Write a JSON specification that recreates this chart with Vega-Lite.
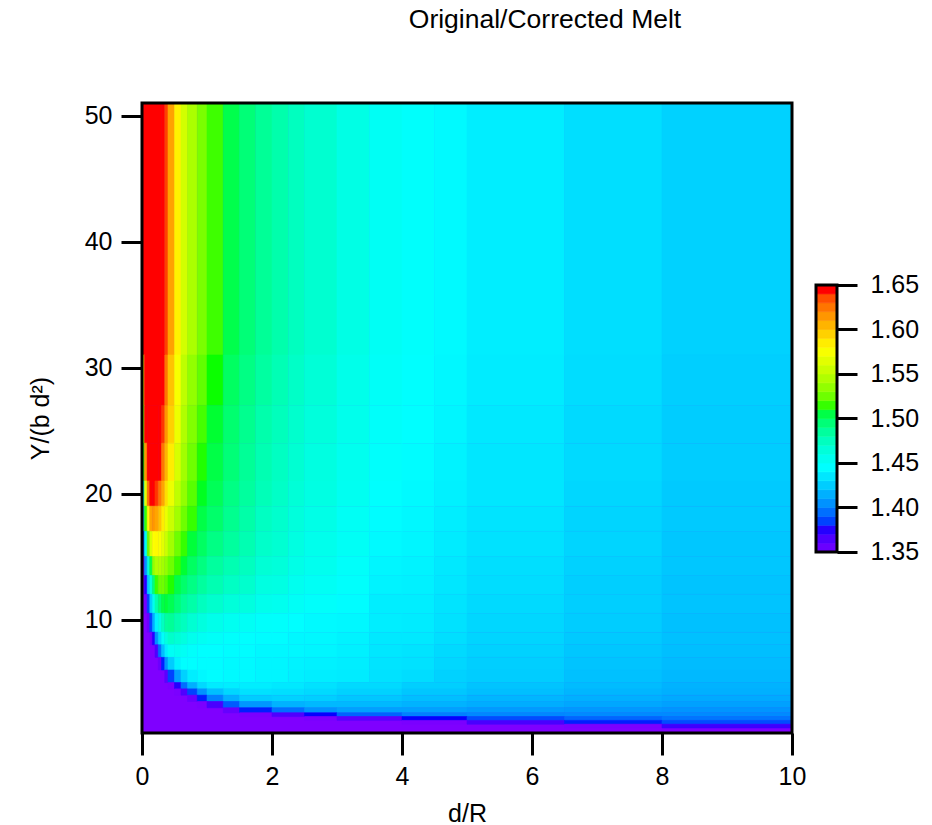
{"$schema":"https://vega.github.io/schema/vega-lite/v6.json","padding":{"left":28,"top":7,"right":5,"bottom":0},"spacing":8,"config":{"font":"Liberation Sans","axis":{"labelFont":"Liberation Sans","titleFont":"Liberation Sans","labelColor":"#000","titleColor":"#000","tickColor":"#000","domainColor":"#000","grid":false,"labelFontSize":25,"titleFontSize":25,"titleFontWeight":"normal","tickWidth":3,"labelFlush":false}},"hconcat":[{"width":650,"height":630,"view":{"stroke":null},"title":{"text":"Original/Corrected Melt","font":"Liberation Sans","fontSize":26.5,"fontWeight":"normal","anchor":"middle","dx":78,"offset":68,"color":"#000"},"layer":[{"data":{"values":[
{"x":0,"x2":10,"y":1,"y2":51,"v":1.35},
{"x":0,"x2":0.3,"y":31,"y2":51,"v":1.68},{"x":0.3,"x2":0.35,"y":31,"y2":51,"v":1.668},{"x":0.35,"x2":0.4,"y":31,"y2":51,"v":1.643},{"x":0.4,"x2":0.5,"y":31,"y2":51,"v":1.616},{"x":0.5,"x2":0.6,"y":31,"y2":51,"v":1.588},{"x":0.6,"x2":0.7,"y":31,"y2":51,"v":1.563},{"x":0.7,"x2":0.85,"y":31,"y2":51,"v":1.548},{"x":0.85,"x2":1,"y":31,"y2":51,"v":1.533},{"x":1,"x2":1.25,"y":31,"y2":51,"v":1.521},{"x":1.25,"x2":1.5,"y":31,"y2":51,"v":1.509},{"x":1.5,"x2":1.75,"y":31,"y2":51,"v":1.5},{"x":1.75,"x2":2,"y":31,"y2":51,"v":1.492},{"x":2,"x2":2.25,"y":31,"y2":51,"v":1.486},{"x":2.25,"x2":2.5,"y":31,"y2":51,"v":1.48},{"x":2.5,"x2":3,"y":31,"y2":51,"v":1.474},{"x":3,"x2":3.5,"y":31,"y2":51,"v":1.465},{"x":3.5,"x2":4,"y":31,"y2":51,"v":1.457},{"x":4,"x2":4.5,"y":31,"y2":51,"v":1.452},{"x":4.5,"x2":5,"y":31,"y2":51,"v":1.448},{"x":5,"x2":6.5,"y":31,"y2":51,"v":1.443},{"x":6.5,"x2":8,"y":31,"y2":51,"v":1.437},{"x":8,"x2":10,"y":31,"y2":51,"v":1.432},
{"x":0,"x2":0.04,"y":27,"y2":31,"v":1.6},{"x":0.04,"x2":0.3,"y":27,"y2":31,"v":1.68},{"x":0.3,"x2":0.35,"y":27,"y2":31,"v":1.655},{"x":0.35,"x2":0.4,"y":27,"y2":31,"v":1.63},{"x":0.4,"x2":0.5,"y":27,"y2":31,"v":1.605},{"x":0.5,"x2":0.6,"y":27,"y2":31,"v":1.58},{"x":0.6,"x2":0.7,"y":27,"y2":31,"v":1.555},{"x":0.7,"x2":0.85,"y":27,"y2":31,"v":1.54},{"x":0.85,"x2":1,"y":27,"y2":31,"v":1.527},{"x":1,"x2":1.25,"y":27,"y2":31,"v":1.517},{"x":1.25,"x2":1.5,"y":27,"y2":31,"v":1.505},{"x":1.5,"x2":1.75,"y":27,"y2":31,"v":1.497},{"x":1.75,"x2":2,"y":27,"y2":31,"v":1.489},{"x":2,"x2":2.25,"y":27,"y2":31,"v":1.483},{"x":2.25,"x2":2.5,"y":27,"y2":31,"v":1.477},{"x":2.5,"x2":3,"y":27,"y2":31,"v":1.471},{"x":3,"x2":3.5,"y":27,"y2":31,"v":1.463},{"x":3.5,"x2":4,"y":27,"y2":31,"v":1.455},{"x":4,"x2":4.5,"y":27,"y2":31,"v":1.451},{"x":4.5,"x2":5,"y":27,"y2":31,"v":1.447},{"x":5,"x2":6.5,"y":27,"y2":31,"v":1.442},{"x":6.5,"x2":8,"y":27,"y2":31,"v":1.436},{"x":8,"x2":10,"y":27,"y2":31,"v":1.431},
{"x":0,"x2":0.04,"y":24,"y2":27,"v":1.55},{"x":0.04,"x2":0.08,"y":24,"y2":27,"v":1.67},{"x":0.08,"x2":0.25,"y":24,"y2":27,"v":1.68},{"x":0.25,"x2":0.3,"y":24,"y2":27,"v":1.67},{"x":0.3,"x2":0.35,"y":24,"y2":27,"v":1.645},{"x":0.35,"x2":0.4,"y":24,"y2":27,"v":1.62},{"x":0.4,"x2":0.5,"y":24,"y2":27,"v":1.6},{"x":0.5,"x2":0.6,"y":24,"y2":27,"v":1.575},{"x":0.6,"x2":0.7,"y":24,"y2":27,"v":1.55},{"x":0.7,"x2":0.85,"y":24,"y2":27,"v":1.535},{"x":0.85,"x2":1,"y":24,"y2":27,"v":1.522},{"x":1,"x2":1.25,"y":24,"y2":27,"v":1.513},{"x":1.25,"x2":1.5,"y":24,"y2":27,"v":1.502},{"x":1.5,"x2":1.75,"y":24,"y2":27,"v":1.494},{"x":1.75,"x2":2,"y":24,"y2":27,"v":1.486},{"x":2,"x2":2.25,"y":24,"y2":27,"v":1.481},{"x":2.25,"x2":2.5,"y":24,"y2":27,"v":1.475},{"x":2.5,"x2":3,"y":24,"y2":27,"v":1.469},{"x":3,"x2":3.5,"y":24,"y2":27,"v":1.462},{"x":3.5,"x2":4,"y":24,"y2":27,"v":1.454},{"x":4,"x2":4.5,"y":24,"y2":27,"v":1.45},{"x":4.5,"x2":5,"y":24,"y2":27,"v":1.446},{"x":5,"x2":6.5,"y":24,"y2":27,"v":1.441},{"x":6.5,"x2":8,"y":24,"y2":27,"v":1.435},{"x":8,"x2":10,"y":24,"y2":27,"v":1.43},
{"x":0,"x2":0.04,"y":21,"y2":24,"v":1.52},{"x":0.04,"x2":0.08,"y":21,"y2":24,"v":1.62},{"x":0.08,"x2":0.12,"y":21,"y2":24,"v":1.665},{"x":0.12,"x2":0.2,"y":21,"y2":24,"v":1.68},{"x":0.2,"x2":0.25,"y":21,"y2":24,"v":1.67},{"x":0.25,"x2":0.3,"y":21,"y2":24,"v":1.65},{"x":0.3,"x2":0.35,"y":21,"y2":24,"v":1.63},{"x":0.35,"x2":0.4,"y":21,"y2":24,"v":1.61},{"x":0.4,"x2":0.5,"y":21,"y2":24,"v":1.59},{"x":0.5,"x2":0.6,"y":21,"y2":24,"v":1.565},{"x":0.6,"x2":0.7,"y":21,"y2":24,"v":1.545},{"x":0.7,"x2":0.85,"y":21,"y2":24,"v":1.53},{"x":0.85,"x2":1,"y":21,"y2":24,"v":1.518},{"x":1,"x2":1.25,"y":21,"y2":24,"v":1.51},{"x":1.25,"x2":1.5,"y":21,"y2":24,"v":1.5},{"x":1.5,"x2":1.75,"y":21,"y2":24,"v":1.492},{"x":1.75,"x2":2,"y":21,"y2":24,"v":1.484},{"x":2,"x2":2.25,"y":21,"y2":24,"v":1.479},{"x":2.25,"x2":2.5,"y":21,"y2":24,"v":1.473},{"x":2.5,"x2":3,"y":21,"y2":24,"v":1.467},{"x":3,"x2":3.5,"y":21,"y2":24,"v":1.46},{"x":3.5,"x2":4,"y":21,"y2":24,"v":1.452},{"x":4,"x2":4.5,"y":21,"y2":24,"v":1.449},{"x":4.5,"x2":5,"y":21,"y2":24,"v":1.445},{"x":5,"x2":6.5,"y":21,"y2":24,"v":1.44},{"x":6.5,"x2":8,"y":21,"y2":24,"v":1.435},{"x":8,"x2":10,"y":21,"y2":24,"v":1.43},
{"x":0,"x2":0.04,"y":19,"y2":21,"v":1.47},{"x":0.04,"x2":0.08,"y":19,"y2":21,"v":1.57},{"x":0.08,"x2":0.12,"y":19,"y2":21,"v":1.63},{"x":0.12,"x2":0.16,"y":19,"y2":21,"v":1.655},{"x":0.16,"x2":0.2,"y":19,"y2":21,"v":1.655},{"x":0.2,"x2":0.25,"y":19,"y2":21,"v":1.645},{"x":0.25,"x2":0.3,"y":19,"y2":21,"v":1.63},{"x":0.3,"x2":0.35,"y":19,"y2":21,"v":1.615},{"x":0.35,"x2":0.4,"y":19,"y2":21,"v":1.595},{"x":0.4,"x2":0.5,"y":19,"y2":21,"v":1.575},{"x":0.5,"x2":0.6,"y":19,"y2":21,"v":1.555},{"x":0.6,"x2":0.7,"y":19,"y2":21,"v":1.54},{"x":0.7,"x2":0.85,"y":19,"y2":21,"v":1.525},{"x":0.85,"x2":1,"y":19,"y2":21,"v":1.515},{"x":1,"x2":1.25,"y":19,"y2":21,"v":1.507},{"x":1.25,"x2":1.5,"y":19,"y2":21,"v":1.497},{"x":1.5,"x2":1.75,"y":19,"y2":21,"v":1.49},{"x":1.75,"x2":2,"y":19,"y2":21,"v":1.482},{"x":2,"x2":2.25,"y":19,"y2":21,"v":1.477},{"x":2.25,"x2":2.5,"y":19,"y2":21,"v":1.471},{"x":2.5,"x2":3,"y":19,"y2":21,"v":1.466},{"x":3,"x2":3.5,"y":19,"y2":21,"v":1.459},{"x":3.5,"x2":4,"y":19,"y2":21,"v":1.451},{"x":4,"x2":4.5,"y":19,"y2":21,"v":1.448},{"x":4.5,"x2":5,"y":19,"y2":21,"v":1.444},{"x":5,"x2":6.5,"y":19,"y2":21,"v":1.44},{"x":6.5,"x2":8,"y":19,"y2":21,"v":1.434},{"x":8,"x2":10,"y":19,"y2":21,"v":1.429},
{"x":0,"x2":0.04,"y":17,"y2":19,"v":1.43},{"x":0.04,"x2":0.08,"y":17,"y2":19,"v":1.52},{"x":0.08,"x2":0.12,"y":17,"y2":19,"v":1.585},{"x":0.12,"x2":0.16,"y":17,"y2":19,"v":1.615},{"x":0.16,"x2":0.2,"y":17,"y2":19,"v":1.62},{"x":0.2,"x2":0.25,"y":17,"y2":19,"v":1.615},{"x":0.25,"x2":0.3,"y":17,"y2":19,"v":1.605},{"x":0.3,"x2":0.35,"y":17,"y2":19,"v":1.59},{"x":0.35,"x2":0.4,"y":17,"y2":19,"v":1.575},{"x":0.4,"x2":0.5,"y":17,"y2":19,"v":1.56},{"x":0.5,"x2":0.6,"y":17,"y2":19,"v":1.545},{"x":0.6,"x2":0.7,"y":17,"y2":19,"v":1.53},{"x":0.7,"x2":0.85,"y":17,"y2":19,"v":1.52},{"x":0.85,"x2":1,"y":17,"y2":19,"v":1.51},{"x":1,"x2":1.25,"y":17,"y2":19,"v":1.503},{"x":1.25,"x2":1.5,"y":17,"y2":19,"v":1.494},{"x":1.5,"x2":1.75,"y":17,"y2":19,"v":1.487},{"x":1.75,"x2":2,"y":17,"y2":19,"v":1.479},{"x":2,"x2":2.25,"y":17,"y2":19,"v":1.475},{"x":2.25,"x2":2.5,"y":17,"y2":19,"v":1.469},{"x":2.5,"x2":3,"y":17,"y2":19,"v":1.464},{"x":3,"x2":3.5,"y":17,"y2":19,"v":1.457},{"x":3.5,"x2":4,"y":17,"y2":19,"v":1.449},{"x":4,"x2":4.5,"y":17,"y2":19,"v":1.447},{"x":4.5,"x2":5,"y":17,"y2":19,"v":1.443},{"x":5,"x2":6.5,"y":17,"y2":19,"v":1.439},{"x":6.5,"x2":8,"y":17,"y2":19,"v":1.433},{"x":8,"x2":10,"y":17,"y2":19,"v":1.429},
{"x":0,"x2":0.04,"y":15,"y2":17,"v":1.39},{"x":0.04,"x2":0.08,"y":15,"y2":17,"v":1.46},{"x":0.08,"x2":0.12,"y":15,"y2":17,"v":1.53},{"x":0.12,"x2":0.16,"y":15,"y2":17,"v":1.565},{"x":0.16,"x2":0.2,"y":15,"y2":17,"v":1.583},{"x":0.2,"x2":0.25,"y":15,"y2":17,"v":1.585},{"x":0.25,"x2":0.3,"y":15,"y2":17,"v":1.58},{"x":0.3,"x2":0.35,"y":15,"y2":17,"v":1.57},{"x":0.35,"x2":0.4,"y":15,"y2":17,"v":1.56},{"x":0.4,"x2":0.5,"y":15,"y2":17,"v":1.545},{"x":0.5,"x2":0.6,"y":15,"y2":17,"v":1.53},{"x":0.6,"x2":0.7,"y":15,"y2":17,"v":1.52},{"x":0.7,"x2":0.85,"y":15,"y2":17,"v":1.512},{"x":0.85,"x2":1,"y":15,"y2":17,"v":1.505},{"x":1,"x2":1.25,"y":15,"y2":17,"v":1.497},{"x":1.25,"x2":1.5,"y":15,"y2":17,"v":1.49},{"x":1.5,"x2":1.75,"y":15,"y2":17,"v":1.484},{"x":1.75,"x2":2,"y":15,"y2":17,"v":1.476},{"x":2,"x2":2.25,"y":15,"y2":17,"v":1.473},{"x":2.25,"x2":2.5,"y":15,"y2":17,"v":1.467},{"x":2.5,"x2":3,"y":15,"y2":17,"v":1.462},{"x":3,"x2":3.5,"y":15,"y2":17,"v":1.456},{"x":3.5,"x2":4,"y":15,"y2":17,"v":1.448},{"x":4,"x2":4.5,"y":15,"y2":17,"v":1.446},{"x":4.5,"x2":5,"y":15,"y2":17,"v":1.442},{"x":5,"x2":6.5,"y":15,"y2":17,"v":1.438},{"x":6.5,"x2":8,"y":15,"y2":17,"v":1.433},{"x":8,"x2":10,"y":15,"y2":17,"v":1.428},
{"x":0,"x2":0.04,"y":13.5,"y2":15,"v":1.36},{"x":0.04,"x2":0.08,"y":13.5,"y2":15,"v":1.41},{"x":0.08,"x2":0.12,"y":13.5,"y2":15,"v":1.47},{"x":0.12,"x2":0.16,"y":13.5,"y2":15,"v":1.51},{"x":0.16,"x2":0.2,"y":13.5,"y2":15,"v":1.54},{"x":0.2,"x2":0.25,"y":13.5,"y2":15,"v":1.55},{"x":0.25,"x2":0.3,"y":13.5,"y2":15,"v":1.55},{"x":0.3,"x2":0.35,"y":13.5,"y2":15,"v":1.545},{"x":0.35,"x2":0.4,"y":13.5,"y2":15,"v":1.54},{"x":0.4,"x2":0.5,"y":13.5,"y2":15,"v":1.53},{"x":0.5,"x2":0.6,"y":13.5,"y2":15,"v":1.52},{"x":0.6,"x2":0.7,"y":13.5,"y2":15,"v":1.513},{"x":0.7,"x2":0.85,"y":13.5,"y2":15,"v":1.505},{"x":0.85,"x2":1,"y":13.5,"y2":15,"v":1.498},{"x":1,"x2":1.25,"y":13.5,"y2":15,"v":1.49},{"x":1.25,"x2":1.5,"y":13.5,"y2":15,"v":1.484},{"x":1.5,"x2":1.75,"y":13.5,"y2":15,"v":1.48},{"x":1.75,"x2":2,"y":13.5,"y2":15,"v":1.472},{"x":2,"x2":2.25,"y":13.5,"y2":15,"v":1.47},{"x":2.25,"x2":2.5,"y":13.5,"y2":15,"v":1.464},{"x":2.5,"x2":3,"y":13.5,"y2":15,"v":1.46},{"x":3,"x2":3.5,"y":13.5,"y2":15,"v":1.454},{"x":3.5,"x2":4,"y":13.5,"y2":15,"v":1.446},{"x":4,"x2":4.5,"y":13.5,"y2":15,"v":1.445},{"x":4.5,"x2":5,"y":13.5,"y2":15,"v":1.441},{"x":5,"x2":6.5,"y":13.5,"y2":15,"v":1.437},{"x":6.5,"x2":8,"y":13.5,"y2":15,"v":1.432},{"x":8,"x2":10,"y":13.5,"y2":15,"v":1.428},
{"x":0.04,"x2":0.08,"y":12,"y2":13.5,"v":1.38},{"x":0.08,"x2":0.12,"y":12,"y2":13.5,"v":1.43},{"x":0.12,"x2":0.16,"y":12,"y2":13.5,"v":1.47},{"x":0.16,"x2":0.2,"y":12,"y2":13.5,"v":1.5},{"x":0.2,"x2":0.25,"y":12,"y2":13.5,"v":1.52},{"x":0.25,"x2":0.3,"y":12,"y2":13.5,"v":1.53},{"x":0.3,"x2":0.35,"y":12,"y2":13.5,"v":1.53},{"x":0.35,"x2":0.4,"y":12,"y2":13.5,"v":1.525},{"x":0.4,"x2":0.5,"y":12,"y2":13.5,"v":1.518},{"x":0.5,"x2":0.6,"y":12,"y2":13.5,"v":1.51},{"x":0.6,"x2":0.7,"y":12,"y2":13.5,"v":1.503},{"x":0.7,"x2":0.85,"y":12,"y2":13.5,"v":1.497},{"x":0.85,"x2":1,"y":12,"y2":13.5,"v":1.49},{"x":1,"x2":1.25,"y":12,"y2":13.5,"v":1.484},{"x":1.25,"x2":1.5,"y":12,"y2":13.5,"v":1.478},{"x":1.5,"x2":1.75,"y":12,"y2":13.5,"v":1.475},{"x":1.75,"x2":2,"y":12,"y2":13.5,"v":1.467},{"x":2,"x2":2.25,"y":12,"y2":13.5,"v":1.466},{"x":2.25,"x2":2.5,"y":12,"y2":13.5,"v":1.46},{"x":2.5,"x2":3,"y":12,"y2":13.5,"v":1.457},{"x":3,"x2":3.5,"y":12,"y2":13.5,"v":1.452},{"x":3.5,"x2":4,"y":12,"y2":13.5,"v":1.445},{"x":4,"x2":4.5,"y":12,"y2":13.5,"v":1.444},{"x":4.5,"x2":5,"y":12,"y2":13.5,"v":1.44},{"x":5,"x2":6.5,"y":12,"y2":13.5,"v":1.436},{"x":6.5,"x2":8,"y":12,"y2":13.5,"v":1.431},{"x":8,"x2":10,"y":12,"y2":13.5,"v":1.427},
{"x":0.04,"x2":0.08,"y":10.5,"y2":12,"v":1.355},{"x":0.08,"x2":0.12,"y":10.5,"y2":12,"v":1.39},{"x":0.12,"x2":0.16,"y":10.5,"y2":12,"v":1.43},{"x":0.16,"x2":0.2,"y":10.5,"y2":12,"v":1.46},{"x":0.2,"x2":0.25,"y":10.5,"y2":12,"v":1.485},{"x":0.25,"x2":0.3,"y":10.5,"y2":12,"v":1.5},{"x":0.3,"x2":0.35,"y":10.5,"y2":12,"v":1.51},{"x":0.35,"x2":0.4,"y":10.5,"y2":12,"v":1.512},{"x":0.4,"x2":0.5,"y":10.5,"y2":12,"v":1.508},{"x":0.5,"x2":0.6,"y":10.5,"y2":12,"v":1.5},{"x":0.6,"x2":0.7,"y":10.5,"y2":12,"v":1.492},{"x":0.7,"x2":0.85,"y":10.5,"y2":12,"v":1.487},{"x":0.85,"x2":1,"y":10.5,"y2":12,"v":1.48},{"x":1,"x2":1.25,"y":10.5,"y2":12,"v":1.475},{"x":1.25,"x2":1.5,"y":10.5,"y2":12,"v":1.47},{"x":1.5,"x2":1.75,"y":10.5,"y2":12,"v":1.468},{"x":1.75,"x2":2,"y":10.5,"y2":12,"v":1.462},{"x":2,"x2":2.25,"y":10.5,"y2":12,"v":1.46},{"x":2.25,"x2":2.5,"y":10.5,"y2":12,"v":1.456},{"x":2.5,"x2":3,"y":10.5,"y2":12,"v":1.453},{"x":3,"x2":3.5,"y":10.5,"y2":12,"v":1.449},{"x":3.5,"x2":4,"y":10.5,"y2":12,"v":1.443},{"x":4,"x2":4.5,"y":10.5,"y2":12,"v":1.443},{"x":4.5,"x2":5,"y":10.5,"y2":12,"v":1.439},{"x":5,"x2":6.5,"y":10.5,"y2":12,"v":1.435},{"x":6.5,"x2":8,"y":10.5,"y2":12,"v":1.431},{"x":8,"x2":10,"y":10.5,"y2":12,"v":1.427},
{"x":0.08,"x2":0.12,"y":9,"y2":10.5,"v":1.36},{"x":0.12,"x2":0.16,"y":9,"y2":10.5,"v":1.39},{"x":0.16,"x2":0.2,"y":9,"y2":10.5,"v":1.42},{"x":0.2,"x2":0.25,"y":9,"y2":10.5,"v":1.445},{"x":0.25,"x2":0.3,"y":9,"y2":10.5,"v":1.465},{"x":0.3,"x2":0.35,"y":9,"y2":10.5,"v":1.48},{"x":0.35,"x2":0.4,"y":9,"y2":10.5,"v":1.49},{"x":0.4,"x2":0.5,"y":9,"y2":10.5,"v":1.492},{"x":0.5,"x2":0.6,"y":9,"y2":10.5,"v":1.485},{"x":0.6,"x2":0.7,"y":9,"y2":10.5,"v":1.48},{"x":0.7,"x2":0.85,"y":9,"y2":10.5,"v":1.473},{"x":0.85,"x2":1,"y":9,"y2":10.5,"v":1.468},{"x":1,"x2":1.25,"y":9,"y2":10.5,"v":1.463},{"x":1.25,"x2":1.5,"y":9,"y2":10.5,"v":1.459},{"x":1.5,"x2":1.75,"y":9,"y2":10.5,"v":1.457},{"x":1.75,"x2":2,"y":9,"y2":10.5,"v":1.453},{"x":2,"x2":2.25,"y":9,"y2":10.5,"v":1.452},{"x":2.25,"x2":2.5,"y":9,"y2":10.5,"v":1.45},{"x":2.5,"x2":3,"y":9,"y2":10.5,"v":1.448},{"x":3,"x2":3.5,"y":9,"y2":10.5,"v":1.447},{"x":3.5,"x2":4,"y":9,"y2":10.5,"v":1.443},{"x":4,"x2":4.5,"y":9,"y2":10.5,"v":1.442},{"x":4.5,"x2":5,"y":9,"y2":10.5,"v":1.438},{"x":5,"x2":6.5,"y":9,"y2":10.5,"v":1.434},{"x":6.5,"x2":8,"y":9,"y2":10.5,"v":1.43},{"x":8,"x2":10,"y":9,"y2":10.5,"v":1.426},
{"x":0.12,"x2":0.16,"y":8,"y2":9,"v":1.355},{"x":0.16,"x2":0.2,"y":8,"y2":9,"v":1.38},{"x":0.2,"x2":0.25,"y":8,"y2":9,"v":1.41},{"x":0.25,"x2":0.3,"y":8,"y2":9,"v":1.435},{"x":0.3,"x2":0.35,"y":8,"y2":9,"v":1.455},{"x":0.35,"x2":0.4,"y":8,"y2":9,"v":1.468},{"x":0.4,"x2":0.5,"y":8,"y2":9,"v":1.476},{"x":0.5,"x2":0.6,"y":8,"y2":9,"v":1.472},{"x":0.6,"x2":0.7,"y":8,"y2":9,"v":1.468},{"x":0.7,"x2":0.85,"y":8,"y2":9,"v":1.462},{"x":0.85,"x2":1,"y":8,"y2":9,"v":1.458},{"x":1,"x2":1.25,"y":8,"y2":9,"v":1.455},{"x":1.25,"x2":1.5,"y":8,"y2":9,"v":1.452},{"x":1.5,"x2":1.75,"y":8,"y2":9,"v":1.451},{"x":1.75,"x2":2,"y":8,"y2":9,"v":1.449},{"x":2,"x2":2.25,"y":8,"y2":9,"v":1.449},{"x":2.25,"x2":2.5,"y":8,"y2":9,"v":1.447},{"x":2.5,"x2":3,"y":8,"y2":9,"v":1.447},{"x":3,"x2":3.5,"y":8,"y2":9,"v":1.445},{"x":3.5,"x2":4,"y":8,"y2":9,"v":1.441},{"x":4,"x2":4.5,"y":8,"y2":9,"v":1.441},{"x":4.5,"x2":5,"y":8,"y2":9,"v":1.437},{"x":5,"x2":6.5,"y":8,"y2":9,"v":1.433},{"x":6.5,"x2":8,"y":8,"y2":9,"v":1.429},{"x":8,"x2":10,"y":8,"y2":9,"v":1.426},
{"x":0.2,"x2":0.25,"y":7,"y2":8,"v":1.37},{"x":0.25,"x2":0.3,"y":7,"y2":8,"v":1.4},{"x":0.3,"x2":0.35,"y":7,"y2":8,"v":1.425},{"x":0.35,"x2":0.4,"y":7,"y2":8,"v":1.443},{"x":0.4,"x2":0.5,"y":7,"y2":8,"v":1.457},{"x":0.5,"x2":0.6,"y":7,"y2":8,"v":1.46},{"x":0.6,"x2":0.7,"y":7,"y2":8,"v":1.457},{"x":0.7,"x2":0.85,"y":7,"y2":8,"v":1.453},{"x":0.85,"x2":1,"y":7,"y2":8,"v":1.45},{"x":1,"x2":1.25,"y":7,"y2":8,"v":1.45},{"x":1.25,"x2":1.5,"y":7,"y2":8,"v":1.449},{"x":1.5,"x2":1.75,"y":7,"y2":8,"v":1.449},{"x":1.75,"x2":2,"y":7,"y2":8,"v":1.447},{"x":2,"x2":2.25,"y":7,"y2":8,"v":1.447},{"x":2.25,"x2":2.5,"y":7,"y2":8,"v":1.447},{"x":2.5,"x2":3,"y":7,"y2":8,"v":1.446},{"x":3,"x2":3.5,"y":7,"y2":8,"v":1.444},{"x":3.5,"x2":4,"y":7,"y2":8,"v":1.44},{"x":4,"x2":4.5,"y":7,"y2":8,"v":1.439},{"x":4.5,"x2":5,"y":7,"y2":8,"v":1.435},{"x":5,"x2":6.5,"y":7,"y2":8,"v":1.432},{"x":6.5,"x2":8,"y":7,"y2":8,"v":1.428},{"x":8,"x2":10,"y":7,"y2":8,"v":1.425},
{"x":0.25,"x2":0.3,"y":6,"y2":7,"v":1.36},{"x":0.3,"x2":0.35,"y":6,"y2":7,"v":1.385},{"x":0.35,"x2":0.4,"y":6,"y2":7,"v":1.41},{"x":0.4,"x2":0.5,"y":6,"y2":7,"v":1.43},{"x":0.5,"x2":0.6,"y":6,"y2":7,"v":1.445},{"x":0.6,"x2":0.7,"y":6,"y2":7,"v":1.45},{"x":0.7,"x2":0.85,"y":6,"y2":7,"v":1.45},{"x":0.85,"x2":1,"y":6,"y2":7,"v":1.449},{"x":1,"x2":1.25,"y":6,"y2":7,"v":1.449},{"x":1.25,"x2":1.5,"y":6,"y2":7,"v":1.448},{"x":1.5,"x2":1.75,"y":6,"y2":7,"v":1.448},{"x":1.75,"x2":2,"y":6,"y2":7,"v":1.446},{"x":2,"x2":2.25,"y":6,"y2":7,"v":1.446},{"x":2.25,"x2":2.5,"y":6,"y2":7,"v":1.445},{"x":2.5,"x2":3,"y":6,"y2":7,"v":1.444},{"x":3,"x2":3.5,"y":6,"y2":7,"v":1.443},{"x":3.5,"x2":4,"y":6,"y2":7,"v":1.439},{"x":4,"x2":4.5,"y":6,"y2":7,"v":1.438},{"x":4.5,"x2":5,"y":6,"y2":7,"v":1.434},{"x":5,"x2":6.5,"y":6,"y2":7,"v":1.431},{"x":6.5,"x2":8,"y":6,"y2":7,"v":1.427},{"x":8,"x2":10,"y":6,"y2":7,"v":1.424},
{"x":0.35,"x2":0.4,"y":5,"y2":6,"v":1.365},{"x":0.4,"x2":0.5,"y":5,"y2":6,"v":1.39},{"x":0.5,"x2":0.6,"y":5,"y2":6,"v":1.415},{"x":0.6,"x2":0.7,"y":5,"y2":6,"v":1.432},{"x":0.7,"x2":0.85,"y":5,"y2":6,"v":1.443},{"x":0.85,"x2":1,"y":5,"y2":6,"v":1.447},{"x":1,"x2":1.25,"y":5,"y2":6,"v":1.449},{"x":1.25,"x2":1.5,"y":5,"y2":6,"v":1.448},{"x":1.5,"x2":1.75,"y":5,"y2":6,"v":1.448},{"x":1.75,"x2":2,"y":5,"y2":6,"v":1.446},{"x":2,"x2":2.25,"y":5,"y2":6,"v":1.446},{"x":2.25,"x2":2.5,"y":5,"y2":6,"v":1.444},{"x":2.5,"x2":3,"y":5,"y2":6,"v":1.443},{"x":3,"x2":3.5,"y":5,"y2":6,"v":1.442},{"x":3.5,"x2":4,"y":5,"y2":6,"v":1.438},{"x":4,"x2":4.5,"y":5,"y2":6,"v":1.436},{"x":4.5,"x2":5,"y":5,"y2":6,"v":1.432},{"x":5,"x2":6.5,"y":5,"y2":6,"v":1.43},{"x":6.5,"x2":8,"y":5,"y2":6,"v":1.426},{"x":8,"x2":10,"y":5,"y2":6,"v":1.423},
{"x":0.4,"x2":0.5,"y":4.5,"y2":5,"v":1.352},{"x":0.5,"x2":0.6,"y":4.5,"y2":5,"v":1.38},{"x":0.6,"x2":0.7,"y":4.5,"y2":5,"v":1.4},{"x":0.7,"x2":0.85,"y":4.5,"y2":5,"v":1.42},{"x":0.85,"x2":1,"y":4.5,"y2":5,"v":1.435},{"x":1,"x2":1.25,"y":4.5,"y2":5,"v":1.442},{"x":1.25,"x2":1.5,"y":4.5,"y2":5,"v":1.443},{"x":1.5,"x2":2,"y":4.5,"y2":5,"v":1.443},{"x":2,"x2":2.5,"y":4.5,"y2":5,"v":1.441},{"x":2.5,"x2":3,"y":4.5,"y2":5,"v":1.438},{"x":3,"x2":4,"y":4.5,"y2":5,"v":1.435},{"x":4,"x2":5,"y":4.5,"y2":5,"v":1.431},{"x":5,"x2":6.5,"y":4.5,"y2":5,"v":1.427},{"x":6.5,"x2":8,"y":4.5,"y2":5,"v":1.424},{"x":8,"x2":10,"y":4.5,"y2":5,"v":1.421},
{"x":0.5,"x2":0.6,"y":4,"y2":4.5,"v":1.352},{"x":0.6,"x2":0.7,"y":4,"y2":4.5,"v":1.37},{"x":0.7,"x2":0.85,"y":4,"y2":4.5,"v":1.39},{"x":0.85,"x2":1,"y":4,"y2":4.5,"v":1.41},{"x":1,"x2":1.25,"y":4,"y2":4.5,"v":1.425},{"x":1.25,"x2":1.5,"y":4,"y2":4.5,"v":1.434},{"x":1.5,"x2":2,"y":4,"y2":4.5,"v":1.438},{"x":2,"x2":2.5,"y":4,"y2":4.5,"v":1.437},{"x":2.5,"x2":3,"y":4,"y2":4.5,"v":1.435},{"x":3,"x2":4,"y":4,"y2":4.5,"v":1.432},{"x":4,"x2":5,"y":4,"y2":4.5,"v":1.428},{"x":5,"x2":6.5,"y":4,"y2":4.5,"v":1.425},{"x":6.5,"x2":8,"y":4,"y2":4.5,"v":1.422},{"x":8,"x2":10,"y":4,"y2":4.5,"v":1.42},
{"x":0.7,"x2":0.85,"y":3.5,"y2":4,"v":1.36},{"x":0.85,"x2":1,"y":3.5,"y2":4,"v":1.385},{"x":1,"x2":1.25,"y":3.5,"y2":4,"v":1.405},{"x":1.25,"x2":1.5,"y":3.5,"y2":4,"v":1.42},{"x":1.5,"x2":2,"y":3.5,"y2":4,"v":1.43},{"x":2,"x2":2.5,"y":3.5,"y2":4,"v":1.432},{"x":2.5,"x2":3,"y":3.5,"y2":4,"v":1.431},{"x":3,"x2":4,"y":3.5,"y2":4,"v":1.428},{"x":4,"x2":5,"y":3.5,"y2":4,"v":1.425},{"x":5,"x2":6.5,"y":3.5,"y2":4,"v":1.422},{"x":6.5,"x2":8,"y":3.5,"y2":4,"v":1.42},{"x":8,"x2":10,"y":3.5,"y2":4,"v":1.418},
{"x":0.85,"x2":1,"y":3,"y2":3.5,"v":1.352},{"x":1,"x2":1.25,"y":3,"y2":3.5,"v":1.372},{"x":1.25,"x2":1.5,"y":3,"y2":3.5,"v":1.395},{"x":1.5,"x2":2,"y":3,"y2":3.5,"v":1.412},{"x":2,"x2":2.5,"y":3,"y2":3.5,"v":1.421},{"x":2.5,"x2":3,"y":3,"y2":3.5,"v":1.423},{"x":3,"x2":4,"y":3,"y2":3.5,"v":1.423},{"x":4,"x2":5,"y":3,"y2":3.5,"v":1.421},{"x":5,"x2":6.5,"y":3,"y2":3.5,"v":1.419},{"x":6.5,"x2":8,"y":3,"y2":3.5,"v":1.417},{"x":8,"x2":10,"y":3,"y2":3.5,"v":1.415},
{"x":1.25,"x2":1.5,"y":2.6,"y2":3,"v":1.362},{"x":1.5,"x2":2,"y":2.6,"y2":3,"v":1.385},{"x":2,"x2":2.5,"y":2.6,"y2":3,"v":1.4},{"x":2.5,"x2":3,"y":2.6,"y2":3,"v":1.41},{"x":3,"x2":4,"y":2.6,"y2":3,"v":1.415},{"x":4,"x2":5,"y":2.6,"y2":3,"v":1.415},{"x":5,"x2":6.5,"y":2.6,"y2":3,"v":1.413},{"x":6.5,"x2":8,"y":2.6,"y2":3,"v":1.412},{"x":8,"x2":10,"y":2.6,"y2":3,"v":1.411},
{"x":1.5,"x2":2,"y":2.3,"y2":2.6,"v":1.352},{"x":2,"x2":2.5,"y":2.3,"y2":2.6,"v":1.37},{"x":2.5,"x2":3,"y":2.3,"y2":2.6,"v":1.383},{"x":3,"x2":4,"y":2.3,"y2":2.6,"v":1.397},{"x":4,"x2":5,"y":2.3,"y2":2.6,"v":1.405},{"x":5,"x2":6.5,"y":2.3,"y2":2.6,"v":1.407},{"x":6.5,"x2":8,"y":2.3,"y2":2.6,"v":1.408},{"x":8,"x2":10,"y":2.3,"y2":2.6,"v":1.408},
{"x":2.5,"x2":3,"y":2,"y2":2.3,"v":1.352},{"x":3,"x2":4,"y":2,"y2":2.3,"v":1.366},{"x":4,"x2":5,"y":2,"y2":2.3,"v":1.383},{"x":5,"x2":6.5,"y":2,"y2":2.3,"v":1.392},{"x":6.5,"x2":8,"y":2,"y2":2.3,"v":1.398},{"x":8,"x2":10,"y":2,"y2":2.3,"v":1.402},
{"x":4,"x2":5,"y":1.7,"y2":2,"v":1.352},{"x":5,"x2":6.5,"y":1.7,"y2":2,"v":1.372},{"x":6.5,"x2":8,"y":1.7,"y2":2,"v":1.385},{"x":8,"x2":10,"y":1.7,"y2":2,"v":1.392},
{"x":6.5,"x2":8,"y":1.4,"y2":1.7,"v":1.352},{"x":8,"x2":10,"y":1.4,"y2":1.7,"v":1.375}
]},"mark":{"type":"rect"},"encoding":{"x":{"field":"x","type":"quantitative","scale":{"domain":[0,10],"nice":false,"zero":false},"axis":{"values":[0,2,4,6,8,10],"format":"d","title":"d/R","tickSize":22,"labelPadding":9,"titlePadding":12,"domain":false}},"x2":{"field":"x2"},"y":{"field":"y","type":"quantitative","scale":{"domain":[1,51],"nice":false,"zero":false},"axis":{"values":[10,20,30,40,50],"format":"d","title":"Y/(b d²)","tickSize":21,"labelPadding":9,"titlePadding":31,"domain":false}},"y2":{"field":"y2"},"color":{"field":"v","type":"quantitative","legend":null,"scale":{"domain":[1.35,1.3833,1.45,1.5167,1.5833,1.65],"range":["#7f00ff","#0000ff","#00ffff","#00ff00","#ffff00","#ff0000"],"clamp":true}},"stroke":{"field":"v","type":"quantitative","legend":null,"scale":{"domain":[1.35,1.3833,1.45,1.5167,1.5833,1.65],"range":["#7f00ff","#0000ff","#00ffff","#00ff00","#ffff00","#ff0000"],"clamp":true}},"strokeWidth":{"value":0.6}}},{"data":{"values":[{"x":0,"x2":10,"y":1,"y2":51}]},"mark":{"type":"rect","fillOpacity":0,"stroke":"#000","strokeWidth":3},"encoding":{"x":{"field":"x","type":"quantitative"},"x2":{"field":"x2"},"y":{"field":"y","type":"quantitative"},"y2":{"field":"y2"}}}]},{"width":21,"height":630,"view":{"stroke":null},"layer":[{"data":{"values":[{"v":1.35,"t":1.36},{"v":1.36,"t":1.37},{"v":1.37,"t":1.38},{"v":1.38,"t":1.39},{"v":1.39,"t":1.4},{"v":1.4,"t":1.41},{"v":1.41,"t":1.42},{"v":1.42,"t":1.43},{"v":1.43,"t":1.44},{"v":1.44,"t":1.45},{"v":1.45,"t":1.46},{"v":1.46,"t":1.47},{"v":1.47,"t":1.48},{"v":1.48,"t":1.49},{"v":1.49,"t":1.5},{"v":1.5,"t":1.51},{"v":1.51,"t":1.52},{"v":1.52,"t":1.53},{"v":1.53,"t":1.54},{"v":1.54,"t":1.55},{"v":1.55,"t":1.56},{"v":1.56,"t":1.57},{"v":1.57,"t":1.58},{"v":1.58,"t":1.59},{"v":1.59,"t":1.6},{"v":1.6,"t":1.61},{"v":1.61,"t":1.62},{"v":1.62,"t":1.63},{"v":1.63,"t":1.64},{"v":1.64,"t":1.65}]},"mark":{"type":"rect"},"encoding":{"y":{"field":"v","type":"quantitative","scale":{"domain":[1.1466,1.8545],"nice":false,"zero":false},"axis":{"values":[1.35,1.4,1.45,1.5,1.55,1.6,1.65],"format":".2f","title":null,"orient":"right","domain":false,"tickSize":20,"labelPadding":13}},"y2":{"field":"t"},"color":{"field":"t","type":"quantitative","legend":null,"scale":{"domain":[1.35,1.3833,1.45,1.5167,1.5833,1.65],"range":["#7f00ff","#0000ff","#00ffff","#00ff00","#ffff00","#ff0000"],"clamp":true}},"stroke":{"field":"t","type":"quantitative","legend":null,"scale":{"domain":[1.35,1.3833,1.45,1.5167,1.5833,1.65],"range":["#7f00ff","#0000ff","#00ffff","#00ff00","#ffff00","#ff0000"],"clamp":true}},"strokeWidth":{"value":0.6}}},{"data":{"values":[{"lo":1.35,"hi":1.65}]},"mark":{"type":"rect","fillOpacity":0,"stroke":"#000","strokeWidth":3},"encoding":{"y":{"field":"lo","type":"quantitative"},"y2":{"field":"hi"}}}]}]}
